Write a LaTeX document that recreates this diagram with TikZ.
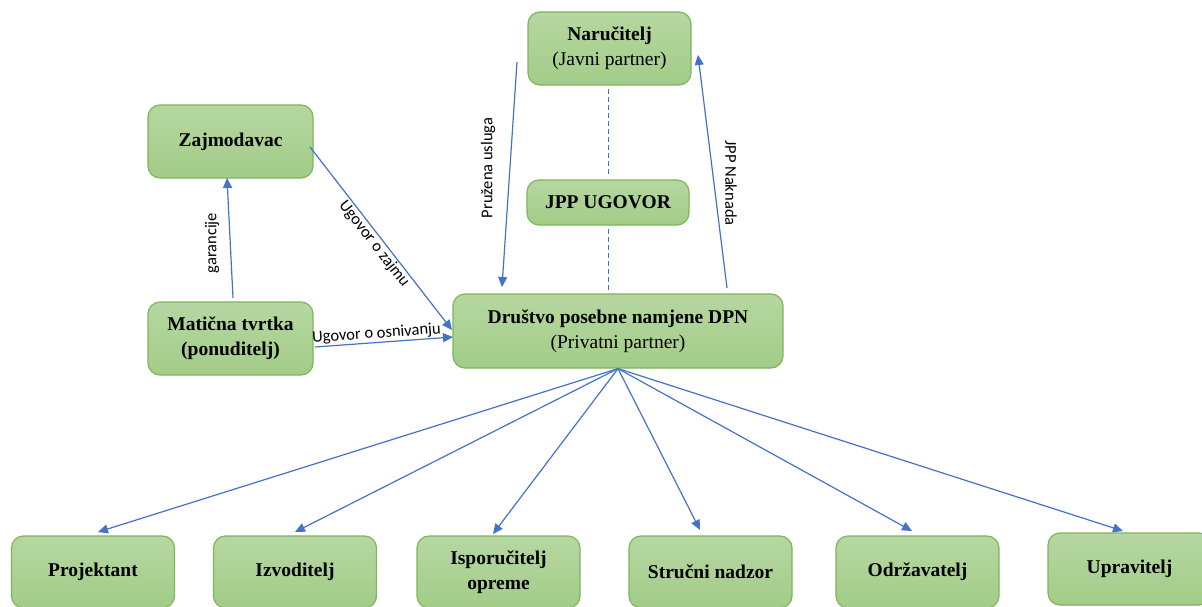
\documentclass[tikz,border=0pt]{standalone}
\usepackage{fontspec}
\setmainfont{Liberation Serif}
\newfontfamily\lblfont{Carlito}
\usetikzlibrary{arrows.meta}
\definecolor{boxtop}{HTML}{B6D7A2}
\definecolor{boxbot}{HTML}{A2CC87}
\definecolor{boxline}{HTML}{7DB65B}
\definecolor{arrowblue}{HTML}{4472C4}
\begin{document}
\begin{tikzpicture}[x=1pt,y=-1pt,
  box/.style={draw=boxline, line width=1.2pt, rounded corners=12pt,
    top color=boxtop, bottom color=boxbot, align=center,
    font=\fontsize{19.5}{25}\selectfont, inner sep=0pt},
  wb/.style={box, minimum width=163pt, minimum height=72pt},
  conn/.style={draw=arrowblue, line width=1.2pt, -{Triangle[length=10pt,width=9pt]}},
  dashline/.style={draw=arrowblue, line width=1pt, dash pattern=on 5pt off 3pt},
  lbl/.style={font=\lblfont\fontsize{16.5}{19}\selectfont, inner sep=1pt}]
\useasboundingbox (0,0) rectangle (1202,607);

% nodes
\node[box, minimum width=163pt, minimum height=73pt] (nar) at (609.5,48.5) {\textbf{Naručitelj}\\(Javni partner)};
\node[box, minimum width=162pt, minimum height=45pt] (jpp) at (608,202.5) {\textbf{JPP UGOVOR}};
\node[box, minimum width=330pt, minimum height=74pt] (dpn) at (618,331) {\textbf{Društvo posebne namjene DPN}\\(Privatni partner)};
\node[box, minimum width=165pt, minimum height=73pt] (zaj) at (230.5,141.5) {\textbf{Zajmodavac}};
\node[box, minimum width=165pt, minimum height=73pt] (mat) at (230.5,338.5) {\textbf{Matična tvrtka}\\\textbf{(ponuditelj)}};

\node[wb] (p1) at (93,572) {\textbf{Projektant}};
\node[wb] (p2) at (295,572) {\textbf{Izvoditelj}};
\node[wb] (p3) at (498.5,572) {\textbf{Isporučitelj}\\\textbf{opreme}};
\node[wb] (p4) at (710.5,572) {\textbf{Stručni nadzor}};
\node[wb] (p5) at (917.5,572) {\textbf{Održavatelj}};
\node[wb] (p6) at (1129.5,569) {\textbf{Upravitelj}};

% free ends
\coordinate (puS) at (517,62);  \coordinate (puE) at (502,287);
\coordinate (jnS) at (727,288); \coordinate (jnE) at (698,55);
\coordinate (gS) at (233,298);  \coordinate (gE) at (227,178);
\coordinate (uzS) at (310,147); \coordinate (uzE) at (452,330);
\coordinate (uoS) at (315,347); \coordinate (uoE) at (453,337);
\coordinate (t1) at (98,532);
\coordinate (t2) at (295,532);
\coordinate (t3) at (493,534);
\coordinate (t4) at (700,530);
\coordinate (t5) at (912,531);
\coordinate (t6) at (1123,531);

% connectors
\draw[conn] (puS) -- (puE);
\node[lbl, rotate=90] (lpu) at (488,168) {Pružena usluga};
\draw[conn] (jnS) -- (jnE);
\node[lbl, rotate=-90] (ljn) at (731,183) {JPP Naknada};

\draw[dashline, shorten <=3pt, shorten >=3pt] (nar.south -| jpp.north) -- (jpp.north);
\draw[dashline, shorten <=3pt, shorten >=3pt] (jpp.south) -- (jpp.south |- dpn.north);

\draw[conn] (gS) -- (gE);
\node[lbl, rotate=90] (lg) at (212,243) {garancije};

\draw[conn] (uzS) -- node[lbl, sloped, below] {Ugovor o zajmu} (uzE);
\draw[conn] (uoS) -- node[lbl, sloped, above, pos=0.45] {Ugovor o osnivanju} (uoE);

\foreach \t in {t1,t2,t3,t4,t5,t6}
  \draw[conn] (dpn.south) -- (\t);
\end{tikzpicture}
\end{document}
